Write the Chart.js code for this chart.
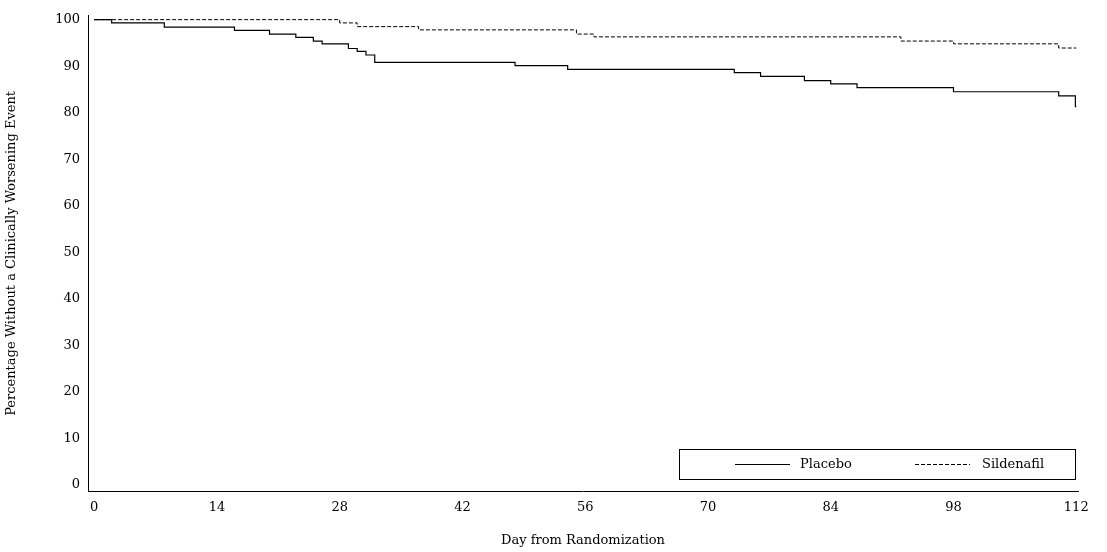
<!DOCTYPE html><html><head><script src="https://cdn.jsdelivr.net/npm/chart.js@4"></script>
<style>body{margin:0;background:#fff}#w{width:1107px;height:552px}</style></head><body><div id="w"><canvas id="c"></canvas></div><script>
const placeboDays=[0,2,8,16,20,23,25,26,29,30,31,32,48,54,73,76,81,84,87,98,110,111.9,112];
const placeboPct=[100,99.3,98.4,97.7,96.9,96.2,95.4,94.8,93.8,93.2,92.4,90.8,90.1,89.3,88.6,87.8,86.9,86.2,85.4,84.5,83.6,81.3,81.3];
const sildDays=[0,28,30,37,55,57,92,98,110,112];
const sildPct=[100,99.3,98.5,97.8,96.9,96.3,95.4,94.8,93.9,93.9];
const xTicks=[0,14,28,42,56,70,84,98,112];
const yTicks=[0,10,20,30,40,50,60,70,80,90,100];
const seriesNames=["Placebo","Sildenafil"];
const F="'DejaVu Serif'";
const pts=(d,v)=>d.map((x,i)=>({x,y:v[i]}));
const legendPlugin={id:'lg',afterDraw(ch){const c=ch.ctx;c.save();c.strokeStyle='#000';c.lineWidth=1;
c.strokeRect(679.5,449.5,396,30);c.font="13px "+F;c.fillStyle='#000';c.textBaseline='middle';
c.beginPath();c.moveTo(735,464.5);c.lineTo(790,464.5);c.stroke();c.fillText(seriesNames[0],800,465);
c.setLineDash([4,2]);c.beginPath();c.moveTo(915,464.5);c.lineTo(970,464.5);c.stroke();c.setLineDash([]);c.fillText(seriesNames[1],982,465);c.restore();}};
new Chart(document.getElementById('c'),{type:'scatter',data:{datasets:[
{label:seriesNames[0],data:pts(placeboDays,placeboPct),showLine:true,stepped:'before',borderColor:'#000',borderWidth:1.2,pointRadius:0},
{label:seriesNames[1],data:pts(sildDays,sildPct),showLine:true,stepped:'before',borderColor:'#000',borderWidth:1,borderDash:[4,2],pointRadius:0}]},
options:{responsive:true,maintainAspectRatio:false,animation:false,layout:{padding:{top:15,right:29,bottom:0,left:0}},
plugins:{legend:{display:false},tooltip:{enabled:false}},
scales:{x:{type:'linear',min:-0.7,max:112.2,afterBuildTicks:a=>{a.ticks=xTicks.map(v=>({value:v}))},
grid:{display:false,drawTicks:true,tickLength:5,tickColor:'#000'},border:{color:'#000'},
ticks:{color:'#000',font:{family:F,size:13},maxRotation:0,autoSkip:false},
title:{display:true,text:'Day from Randomization',color:'#000',font:{family:F,size:13},padding:{top:14,bottom:4}}},
y:{min:-1.5,max:101,afterBuildTicks:a=>{a.ticks=yTicks.map(v=>({value:v}))},afterFit:s=>{s.width=88},
grid:{display:false,tickLength:5,tickColor:'#000'},border:{color:'#000'},
ticks:{color:'#000',font:{family:F,size:13},autoSkip:false},
title:{display:true,text:'Percentage Without a Clinically Worsening Event',color:'#000',font:{family:F,size:13}}}}},
plugins:[legendPlugin]});
</script></body></html>
